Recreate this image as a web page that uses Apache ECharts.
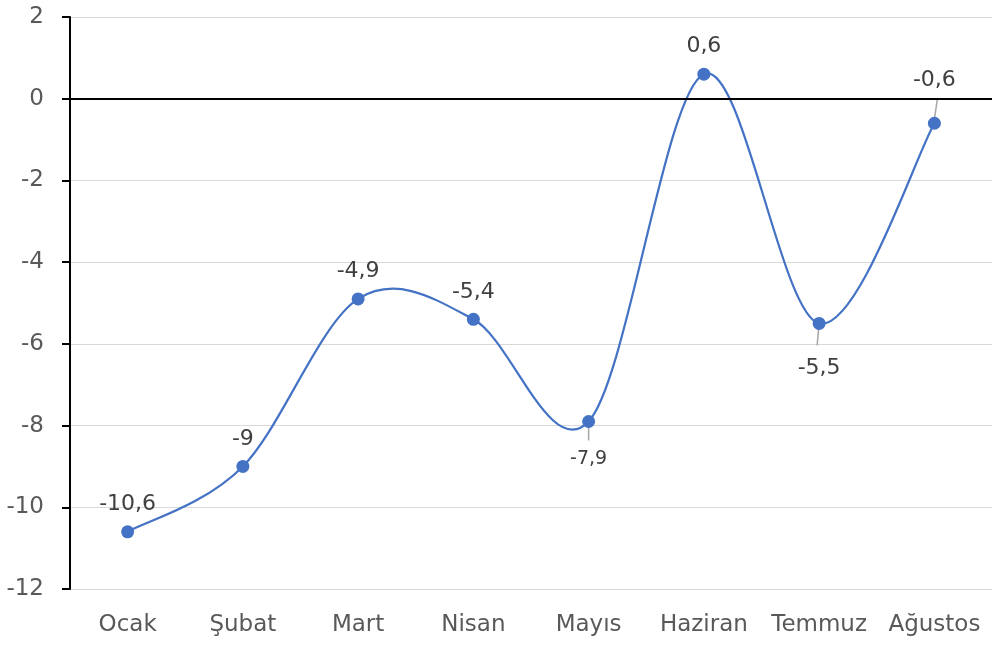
<!DOCTYPE html>
<html><head><meta charset="utf-8">
<script src="https://cdn.jsdelivr.net/npm/echarts@6/dist/echarts.min.js"></script>
<style>html,body{margin:0;padding:0;background:#fff}#c{width:992px;height:646px}</style>
</head><body><div id="c"></div>
<script>
var categories = ['Ocak','Şubat','Mart','Nisan','Mayıs','Haziran','Temmuz','Ağustos'];
var values = [-10.6, -9, -4.9, -5.4, -7.9, 0.6, -5.5, -0.6];
var yTicks = {min: -12, max: 2, interval: 2};

var FONT = '"DejaVu Sans", "Open Sans", sans-serif';
var BLUE = '#4472C4';
function fmt(v){ return String(v).replace('.', ','); }

// label placement per point (style only)
var labelStyles = {
  4: {position: 'bottom', distance: 22, fontSize: 19},
  6: {position: 'bottom', distance: 27},
  7: {position: 'top', distance: 25}
};
// leader lines (pixel offsets from the point, dx/dy)
var leaders = {
  4: [0, 5, 0, 19],
  6: [0, 0, -2, 22],
  7: [3, -24, 0, -4]
};

var data = values.map(function(v, i){
  var item = {value: v};
  if (labelStyles[i]) item.label = labelStyles[i];
  return item;
});

// Excel-style smoothed segments (Bezier with neighbour tangents / 6)
function renderSeg(params, api){
  var i = params.dataIndex;
  var n = values.length;
  var children = [];
  var p1 = api.coord([i, values[i]]);
  if (leaders[i]) {
    var L = leaders[i];
    children.push({
      type: 'line',
      shape: {x1: p1[0] + L[0], y1: p1[1] + L[1], x2: p1[0] + L[2], y2: p1[1] + L[3]},
      style: {stroke: '#a6a6a6', lineWidth: 1.5}
    });
  }
  if (i < n - 1) {
    var p0 = api.coord([Math.max(i - 1, 0), values[Math.max(i - 1, 0)]]);
    var p2 = api.coord([i + 1, values[i + 1]]);
    var p3 = api.coord([Math.min(i + 2, n - 1), values[Math.min(i + 2, n - 1)]]);
    children.push({
      type: 'bezierCurve',
      shape: {
        x1: p1[0], y1: p1[1], x2: p2[0], y2: p2[1],
        cpx1: p1[0] + (p2[0] - p0[0]) / 6, cpy1: p1[1] + (p2[1] - p0[1]) / 6,
        cpx2: p2[0] - (p3[0] - p1[0]) / 6, cpy2: p2[1] - (p3[1] - p1[1]) / 6
      },
      style: {stroke: BLUE, lineWidth: 2.2, fill: null}
    });
  }
  return {type: 'group', children: children};
}

var chart = echarts.init(document.getElementById('c'), null, {renderer: 'canvas'});
chart.setOption({
  animation: false,
  backgroundColor: '#fff',
  grid: {left: 70, right: 0, top: 17, bottom: 57, containLabel: false},
  xAxis: {
    type: 'category',
    data: categories,
    boundaryGap: true,
    axisLine: {show: false},
    axisTick: {show: false},
    axisLabel: {color: '#595959', fontSize: 23, fontFamily: FONT, margin: 25, interval: 0, hideOverlap: false}
  },
  yAxis: {
    type: 'value',
    min: yTicks.min, max: yTicks.max, interval: yTicks.interval,
    axisLine: {show: true, lineStyle: {color: '#000', width: 2}},
    axisTick: {show: true, inside: false, length: 8, lineStyle: {color: '#000', width: 2}},
    axisLabel: {color: '#595959', fontSize: 23, fontFamily: FONT, margin: 26, padding: [7, 0, 0, 0]},
    splitLine: {show: true, lineStyle: {color: '#d9d9d9', width: 1}}
  },
  series: [{
    type: 'custom',
    renderItem: renderSeg,
    data: values.map(function(v, i){ return [i, v]; }),
    encode: {x: 0, y: 1},
    silent: true,
    z: 2
  }, {
    type: 'line',
    data: data,
    smooth: false,
    symbol: 'circle',
    symbolSize: 13,
    itemStyle: {color: BLUE},
    lineStyle: {color: BLUE, width: 2, opacity: 0},
    label: {
      show: true, position: 'top', distance: 10,
      color: '#404040', fontSize: 22, fontFamily: FONT,
      formatter: function(p){ return fmt(p.value); }
    },
    markLine: {
      silent: true, symbol: 'none', label: {show: false},
      lineStyle: {color: '#000', width: 2, type: 'solid'},
      data: [{yAxis: 0}]
    },
    z: 3
  }]
});
</script></body></html>
